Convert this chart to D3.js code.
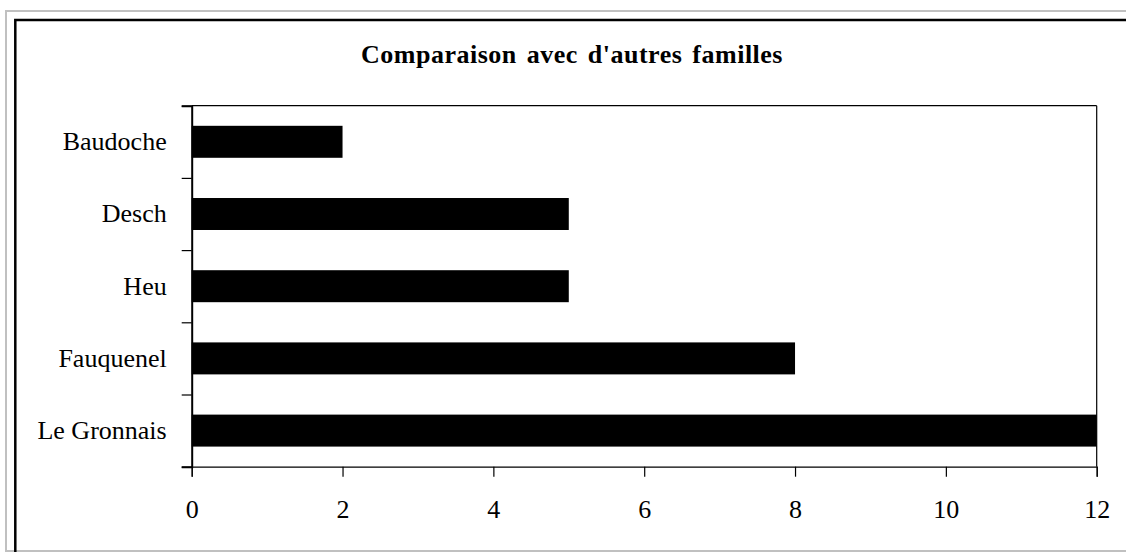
<!DOCTYPE html>
<html>
<head>
<meta charset="utf-8">
<script src="https://cdn.jsdelivr.net/npm/d3@7"></script>
<style>
  body { margin: 0; background: #fff; }
  svg { display: block; }
  text { font-family: "Liberation Serif", "Times New Roman", serif; fill: #000; }
</style>
</head>
<body>
<svg id="chart" width="1126" height="552"></svg>
<script>
var families = ["Baudoche", "Desch", "Heu", "Fauquenel", "Le Gronnais"];
var counts = [2, 5, 5, 8, 12];
var xTicks = [0, 2, 4, 6, 8, 10, 12];
var title = "Comparaison avec d'autres familles";

function drawChart() {
    var svg = d3.select("#chart");

    // frames (gray outer, black inner, both run off the right/bottom edge)
    svg.append("rect")
        .attr("x", 6).attr("y", 11).attr("width", 1140).attr("height", 540)
        .attr("fill", "none").attr("stroke", "#c0c0c0").attr("stroke-width", 2);
    svg.append("rect")
        .attr("x", 15.3).attr("y", 20).attr("width", 1140).attr("height", 560)
        .attr("fill", "none").attr("stroke", "#000").attr("stroke-width", 2.5);

    var pLeft = 191.7, pRight = 1096.7, pTop = 105.7, pBottom = 466.7;

    var x = d3.scaleLinear().domain([0, 12]).range([pLeft, pRight]);
    var y = d3.scaleBand().domain(families).range([pTop, pBottom])
        .paddingInner(0.557).paddingOuter(0.2785);
    var slots = d3.scaleLinear().domain([0, families.length]).range([pTop, pBottom]);

    svg.append("text")
        .attr("x", 572).attr("y", 63)
        .attr("text-anchor", "middle")
        .style("font-size", "26px")
        .style("font-weight", "bold")
        .style("word-spacing", "3px")
        .style("letter-spacing", "0.5px")
        .text(title);

    // plot box top/right
    svg.append("line").attr("x1", pLeft).attr("x2", pRight).attr("y1", pTop).attr("y2", pTop)
        .attr("stroke", "#000").attr("stroke-width", 1.2);
    svg.append("line").attr("x1", pRight).attr("x2", pRight).attr("y1", pTop).attr("y2", pBottom)
        .attr("stroke", "#000").attr("stroke-width", 1.2);

    svg.selectAll(".bar")
        .data(families)
        .enter().append("rect")
        .attr("class", "bar")
        .attr("x", x(0))
        .attr("y", function (d) { return y(d); })
        .attr("width", function (d, i) { return x(counts[i]) - x(0); })
        .attr("height", y.bandwidth())
        .attr("fill", "#000");

    // y axis: boundary ticks + labels
    var yTickAxis = svg.append("g")
        .attr("transform", "translate(" + pLeft + ",0)")
        .call(d3.axisLeft(slots).ticks(families.length).tickSize(10).tickFormat(""));
    yTickAxis.select(".domain").attr("stroke-width", 2);

    var yLab = svg.append("g")
        .attr("transform", "translate(" + pLeft + ",0)")
        .call(d3.axisLeft(y).tickSize(0).tickPadding(25));
    yLab.select(".domain").remove();
    yLab.selectAll("text").style("font-size", "26px").attr("font-family", null);

    var xAxis = svg.append("g")
        .attr("transform", "translate(0," + pBottom + ")")
        .call(d3.axisBottom(x).tickValues(xTicks).tickSize(10).tickPadding(23));
    xAxis.select(".domain").attr("stroke-width", 1.2);
    xAxis.selectAll("text").style("font-size", "26px").attr("font-family", null);
    svg.selectAll(".tick line").attr("stroke-width", 1.2);
}
drawChart();
</script>
</body>
</html>
